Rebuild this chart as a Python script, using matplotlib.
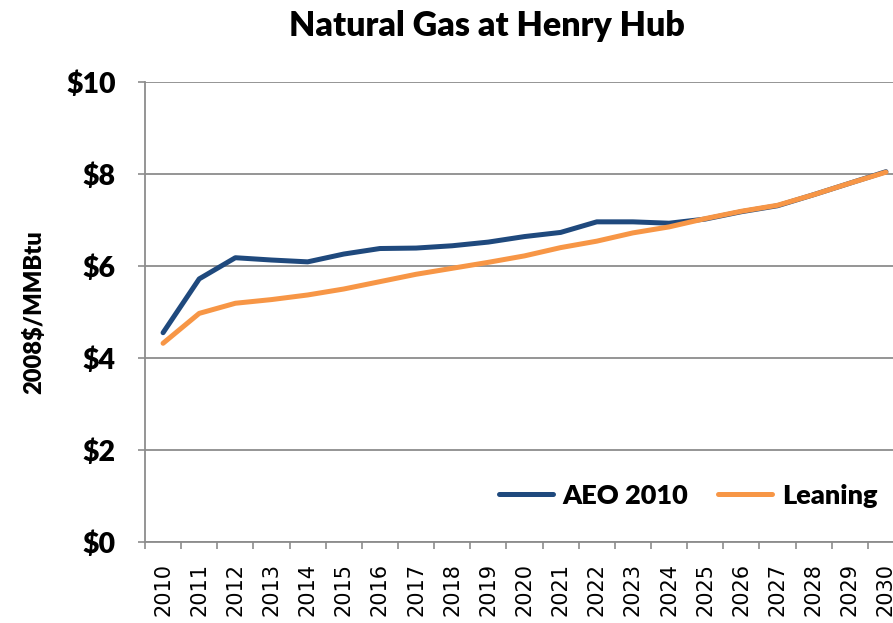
import matplotlib.pyplot as plt
import numpy as np

years = [str(y) for y in range(2010, 2031)]
aeo_2010 = [4.55, 5.72, 6.18, 6.13, 6.09, 6.26, 6.38, 6.39, 6.44, 6.52, 6.64, 6.73,
            6.96, 6.96, 6.93, 7.02, 7.18, 7.31, 7.55, 7.80, 8.05]
leaning = [4.32, 4.97, 5.19, 5.27, 5.37, 5.50, 5.66, 5.82, 5.95, 6.08, 6.22, 6.40,
           6.54, 6.72, 6.85, 7.03, 7.19, 7.32, 7.55, 7.80, 8.04]
y_ticks = [0, 2, 4, 6, 8, 10]

bold_font = ['Lato', 'DejaVu Sans']

fig = plt.figure(figsize=(8.93, 6.23), dpi=100)
# plot area runs past the right edge of the picture, as in the original
ax = fig.add_axes([145 / 893, 81 / 623, 759 / 893, 460 / 623])

x = np.arange(len(years))
ax.plot(x, aeo_2010, color='#1F497D', lw=3.6, solid_capstyle='round', label='AEO 2010')
ax.plot(x, leaning, color='#F79646', lw=3.6, solid_capstyle='round', label='Leaning')

ax.set_xlim(-0.5, len(years) - 0.5)
ax.set_ylim(0, 10)
ax.set_yticks(y_ticks)
ax.set_yticklabels([f'${v}' for v in y_ticks], fontsize=20.5, fontweight='heavy', family=bold_font)
ax.set_xticks(x)
ax.set_xticklabels(years, rotation=90, fontsize=15, family='DejaVu Sans')
ax.set_xticks(np.arange(-0.5, len(years)), minor=True)
ax.tick_params(axis='x', which='major', length=0, pad=15)
ax.tick_params(axis='x', which='minor', length=5, color='#8c8c8c', width=1.2)
ax.tick_params(axis='y', length=5, color='#8c8c8c', width=1.2, pad=16)

ax.grid(axis='y', color='#8c8c8c', lw=1.3)
ax.set_axisbelow(True)
for side in ['top', 'right']:
    ax.spines[side].set_visible(False)
for side in ['left', 'bottom']:
    ax.spines[side].set_color('#8c8c8c')
    ax.spines[side].set_linewidth(1.3)

ax.set_ylabel('2008$/MMBtu', fontsize=17, fontweight='heavy', family=bold_font, labelpad=15)
fig.text(487 / 893, 1 - 26 / 623, 'Natural Gas at Henry Hub', ha='center', va='center',
         fontsize=24.5, fontweight='heavy', family=bold_font)

leg = ax.legend(loc='lower right', bbox_to_anchor=(0.997, 0.022), ncol=2, frameon=False,
                prop={'family': bold_font, 'weight': 'heavy', 'size': 19.5},
                handlelength=2.0, columnspacing=1.1, handletextpad=0.35)

fig.savefig('out.png', dpi=100)
